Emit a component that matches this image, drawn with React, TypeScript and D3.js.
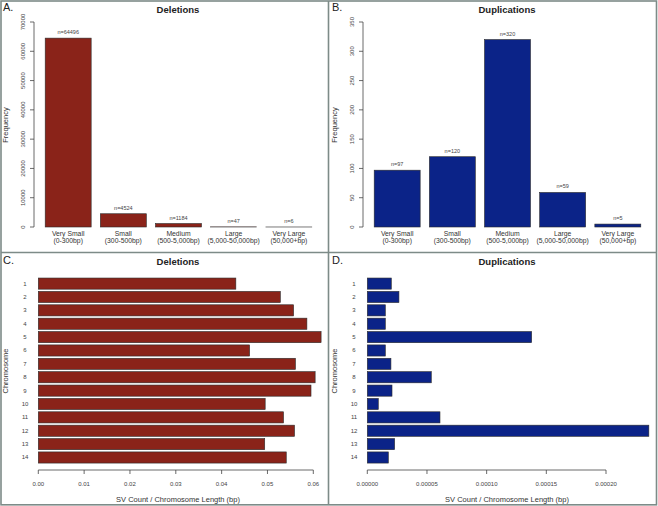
import React from "react";
import * as d3 from "d3";

const sizeCategories = ["Very Small", "Small", "Medium", "Large", "Very Large"];
const sizeRanges = ["(0-300bp)", "(300-500bp)", "(500-5,000bp)", "(5,000-50,000bp)", "(50,000+bp)"];
const deletionCounts = [64496, 4524, 1184, 47, 6];
const duplicationCounts = [97, 120, 320, 59, 5];
const deletionTicks = [0, 10000, 20000, 30000, 40000, 50000, 60000, 70000];
const duplicationTicks = [0, 50, 100, 150, 200, 250, 300, 350];

const chromosomes = ["1", "2", "3", "4", "5", "6", "7", "8", "9", "10", "11", "12", "13", "14"];
const deletionDensity = [0.0431, 0.0528, 0.0557, 0.0586, 0.0617, 0.0461, 0.0561, 0.0604, 0.0595, 0.0495, 0.0535, 0.0559, 0.0494, 0.0541];
const duplicationDensity = [0.0000201, 0.0000265, 0.0000151, 0.0000151, 0.0001377, 0.0000151, 0.0000198, 0.0000536, 0.0000207, 0.0000092, 0.0000609, 0.0002359, 0.0000229, 0.0000176];
const deletionDensityTicks = [0, 0.01, 0.02, 0.03, 0.04, 0.05, 0.06];
const duplicationDensityTicks = [0, 0.00005, 0.0001, 0.00015, 0.0002];

const FONT = "'Liberation Sans', Arial, Helvetica, sans-serif";
const RED = "#8a2319";
const BLUE = "#0b2388";
const BAR_STROKE = "#2b2b2b";
const TICK_COLOR = "#444";
const FRAME = "#7d8b88";

type VProps = { ox: number; title: string; counts: number[]; ticks: number[]; color: string };

function VerticalPanel({ ox, title, counts, ticks, color }: VProps) {
  const x = d3.scaleBand<string>().domain(sizeCategories).range([ox + 36, ox + 321]).paddingInner(1 / 6).paddingOuter(1 / 6);
  const y = d3.scaleLinear().domain([0, ticks[ticks.length - 1]]).range([227, 22]);
  const axisX = ox + 34;
  const titleX = ox + 178;
  return (
    <g fontFamily={FONT}>
      <text x={titleX} y={13} textAnchor="middle" fontWeight="bold" fontSize={9.5} fill="#222">{title}</text>
      <line x1={axisX} x2={axisX} y1={y(ticks[0])} y2={y(ticks[ticks.length - 1])} stroke={TICK_COLOR} strokeWidth={0.8} />
      {ticks.map((t) => (
        <g key={t}>
          <line x1={axisX - 4} x2={axisX} y1={y(t)} y2={y(t)} stroke={TICK_COLOR} strokeWidth={0.8} />
          <text transform={`translate(${axisX - 9},${y(t)}) rotate(-90)`} textAnchor="middle" fontSize={6} fill={TICK_COLOR}>{String(t)}</text>
        </g>
      ))}
      <text transform={`translate(${ox + 8},125) rotate(-90)`} textAnchor="middle" fontSize={7.5} fill="#333">Frequency</text>
      {counts.map((c, i) => {
        const cat = sizeCategories[i];
        const bx = x(cat)!;
        const top = y(c);
        return (
          <g key={cat}>
            <rect x={bx} y={top} width={x.bandwidth()} height={y(0) - top} fill={color} stroke={BAR_STROKE} strokeWidth={0.6} />
            <text x={bx + x.bandwidth() / 2} y={top - 4} textAnchor="middle" fontSize={5.5} fill={TICK_COLOR}>{`n=${c}`}</text>
            <text x={bx + x.bandwidth() / 2} y={235.5} textAnchor="middle" fontSize={6.8} fill="#333">{cat}</text>
            <text x={bx + x.bandwidth() / 2} y={242.5} textAnchor="middle" fontSize={6.8} fill="#333">{sizeRanges[i]}</text>
          </g>
        );
      })}
    </g>
  );
}

type HProps = { ox: number; x0: number; x1: number; title: string; values: number[]; ticks: number[]; digits: number; color: string };

function HorizontalPanel({ ox, x0, x1, title, values, ticks, digits, color }: HProps) {
  const x = d3.scaleLinear().domain([ticks[0], ticks[ticks.length - 1]]).range([ox + x0, ox + x1]);
  const y = d3.scaleBand<string>().domain(chromosomes).range([275.8, 465.3]).paddingInner(1 / 6).paddingOuter(1 / 6);
  const axisY = 470;
  const fmt = d3.format(`.${digits}f`);
  return (
    <g fontFamily={FONT}>
      <text x={ox + 178} y={265} textAnchor="middle" fontWeight="bold" fontSize={9.5} fill="#222">{title}</text>
      {values.map((v, i) => {
        const ch = chromosomes[i];
        const by = y(ch)!;
        return (
          <g key={ch}>
            <rect x={x(0)} y={by} width={x(v) - x(0)} height={y.bandwidth()} fill={color} stroke={BAR_STROKE} strokeWidth={0.6} />
            <text x={ox + 25} y={by + y.bandwidth() / 2 + 2} textAnchor="middle" fontSize={6} fill={TICK_COLOR}>{ch}</text>
          </g>
        );
      })}
      <line x1={x(ticks[0])} x2={x(ticks[ticks.length - 1])} y1={axisY} y2={axisY} stroke={TICK_COLOR} strokeWidth={0.8} />
      {ticks.map((t) => (
        <g key={t}>
          <line x1={x(t)} x2={x(t)} y1={axisY} y2={axisY + 4} stroke={TICK_COLOR} strokeWidth={0.8} />
          <text x={x(t)} y={486} textAnchor="middle" fontSize={6} fill={TICK_COLOR}>{fmt(t)}</text>
        </g>
      ))}
      <text x={ox + 178} y={502} textAnchor="middle" fontSize={7.5} fill="#333">SV Count / Chromosome Length (bp)</text>
      <text transform={`translate(${ox + 8},371) rotate(-90)`} textAnchor="middle" fontSize={7.5} fill="#333">Chromosome</text>
    </g>
  );
}

export default function App() {
  return (
    <svg width={658} height={506} style={{ position: "absolute", left: 0, top: 0, background: "#fff" }}>
      <rect x={0} y={0} width={658} height={506} fill="#fff" />
      <VerticalPanel ox={0} title="Deletions" counts={deletionCounts} ticks={deletionTicks} color={RED} />
      <VerticalPanel ox={329} title="Duplications" counts={duplicationCounts} ticks={duplicationTicks} color={BLUE} />
      <HorizontalPanel ox={0} x0={38.3} x1={313.3} title="Deletions" values={deletionDensity} ticks={deletionDensityTicks} digits={2} color={RED} />
      <HorizontalPanel ox={329} x0={38.3} x1={277} title="Duplications" values={duplicationDensity} ticks={duplicationDensityTicks} digits={5} color={BLUE} />
      <g fill="none" stroke={FRAME} strokeWidth={1.6}>
        <rect x={1} y={1} width={655.5} height={503.8} />
        <line x1={328.5} x2={328.5} y1={1} y2={505} />
        <line x1={1} x2={657} y1={252.5} y2={252.5} />
      </g>
      <g fontFamily={FONT} fontSize={11} fill="#222">
        <text x={3} y={11}>A.</text>
        <text x={332} y={11}>B.</text>
        <text x={3} y={264}>C.</text>
        <text x={332} y={264}>D.</text>
      </g>
    </svg>
  );
}
